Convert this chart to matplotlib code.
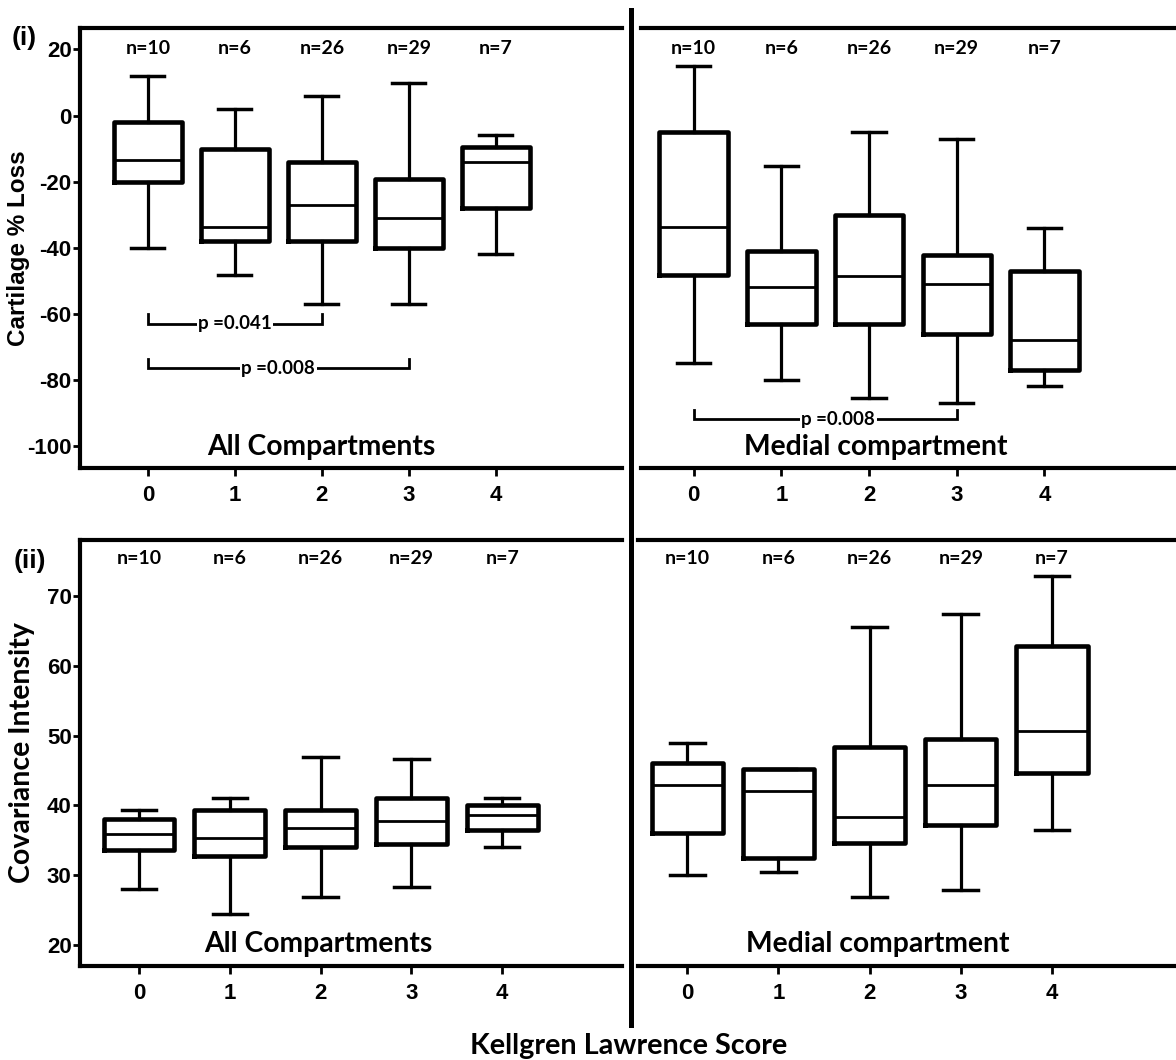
import matplotlib
matplotlib.use("Agg")
import matplotlib.pyplot as plt
from matplotlib.lines import Line2D

# Данные
kl_scores = [0, 1, 2, 3, 4]
n_labels = ["n=10", "n=6", "n=26", "n=29", "n=7"]

# Cartilage % loss, all compartments
loss_all_lo = [-40, -48.2, -57, -57, -41.9]
loss_all_q1 = [-20, -38.1, -38.1, -40.1, -28.1]
loss_all_med = [-13.6, -33.6, -27.1, -31.1, -14.2]
loss_all_q3 = [-2, -10, -14.1, -19.1, -9.5]
loss_all_hi = [12, 2, 5.9, 9.9, -6]

# Cartilage % loss, medial compartment
loss_med_lo = [-75, -80, -85.6, -87.1, -82]
loss_med_q1 = [-48.2, -63.1, -63.1, -66.1, -77]
loss_med_med = [-33.6, -52, -48.6, -51.1, -68.1]
loss_med_q3 = [-5, -41.1, -30.1, -42.3, -47.1]
loss_med_hi = [15, -15.2, -5.1, -7.1, -34.1]

# Covariance intensity, all compartments
cov_all_lo = [28, 24.4, 26.9, 28.3, 34.1]
cov_all_q1 = [33.6, 32.7, 34, 34.5, 36.5]
cov_all_med = [35.9, 35.3, 36.8, 37.7, 38.6]
cov_all_q3 = [38.1, 39.3, 39.4, 41, 40]
cov_all_hi = [39.3, 41, 46.9, 46.7, 41]

# Covariance intensity, medial compartment
cov_med_lo = [30.1, 30.4, 26.9, 27.9, 36.5]
cov_med_q1 = [36, 32.5, 34.6, 37.2, 44.7]
cov_med_med = [42.9, 42.1, 38.3, 42.9, 50.6]
cov_med_q3 = [46.1, 45.2, 48.3, 49.5, 62.8]
cov_med_hi = [49, 45.2, 65.6, 67.4, 72.9]

# p-value brackets: (from, to, level, text x, text)
brackets_all = [(0, 2, -63, 1.0, "p =0.041"), (0, 3, -76.5, 1.5, "p =0.008")]
brackets_med = [(0, 3, -92, 1.65, "p =0.008")]

CAL = "Lato"
ARI = "Liberation Sans"
W, H = 1176, 1060


def rect(x0, x1, ytop, ybot):
    return [x0 / W, 1 - ybot / H, (x1 - x0) / W, (ybot - ytop) / H]


def make_stats(lo, q1, med, q3, hi):
    return [dict(whislo=a, q1=b, med=c, q3=d, whishi=e, fliers=[])
            for a, b, c, d, e in zip(lo, q1, med, q3, hi)]


def draw_panel(ax, stats, xlim, ylim, yticks, title, n_y, title_x, title_y,
               show_left=True):
    ax.bxp(stats, positions=kl_scores, widths=0.78, capwidths=0.38,
           showfliers=False, manage_ticks=False,
           boxprops=dict(color="black", linewidth=3.3),
           whiskerprops=dict(color="black", linewidth=2.3),
           capprops=dict(color="black", linewidth=2.5),
           medianprops=dict(color="black", linewidth=2.0))
    ax.set_xlim(*xlim)
    ax.set_ylim(*ylim)
    ax.set_xticks(kl_scores)
    ax.set_xticklabels([str(k) for k in kl_scores], fontfamily=ARI,
                       fontweight="bold", fontsize=16)
    for s in ["top", "bottom", "left"]:
        ax.spines[s].set_linewidth(3.0)
    ax.spines["right"].set_visible(False)
    ax.tick_params(axis="x", length=6, width=2, pad=6)
    if show_left:
        ax.set_yticks(yticks)
        ax.set_yticklabels([str(t) for t in yticks], fontfamily=ARI,
                           fontweight="bold", fontsize=16)
        ax.tick_params(axis="y", length=5, width=2, pad=1)
    else:
        ax.spines["left"].set_visible(False)
        ax.set_yticks([])
    for x, lab in zip(kl_scores, n_labels):
        ax.text(x, n_y, lab, ha="center", va="center", fontfamily=CAL,
                fontweight="bold", fontsize=14)
    ax.text(title_x, title_y, title, ha="center", va="center",
            fontfamily=CAL, fontweight="bold", fontsize=20.3)


def draw_brackets(ax, brackets, tick_h):
    for x0, x1, y, tx, txt in brackets:
        ax.plot([x0, x0, x1, x1], [y + tick_h, y, y, y + tick_h],
                color="black", linewidth=2.0, solid_joinstyle="miter")
        ax.text(tx, y, txt, ha="center", va="center", fontfamily=CAL,
                fontweight="bold", fontsize=13.5,
                bbox=dict(facecolor="white", edgecolor="none", pad=1.0))


fig = plt.figure(figsize=(W / 100, H / 100), dpi=100)

ax_tl = fig.add_axes(rect(80, 622, 28, 468))
ax_tr = fig.add_axes(rect(641, 1176, 28, 468))
ax_bl = fig.add_axes(rect(80, 622, 540, 966))
ax_br = fig.add_axes(rect(638, 1176, 540, 966))

top_ylim = (-106.7, 26.5)
bot_ylim = (17, 78)

draw_panel(ax_tl, make_stats(loss_all_lo, loss_all_q1, loss_all_med, loss_all_q3, loss_all_hi),
           (-0.78, 5.45), top_ylim, [20, 0, -20, -40, -60, -80, -100],
           "All Compartments", 20.3, 1.99, -100.3)
draw_panel(ax_tr, make_stats(loss_med_lo, loss_med_q1, loss_med_med, loss_med_q3, loss_med_hi),
           (-0.6, 5.5), top_ylim, [], "Medial compartment", 20.3, 2.08, -100.3,
           show_left=False)
draw_panel(ax_bl, make_stats(cov_all_lo, cov_all_q1, cov_all_med, cov_all_q3, cov_all_hi),
           (-0.65, 5.32), bot_ylim, [20, 30, 40, 50, 60, 70],
           "All Compartments", 75.3, 1.98, 20.2)
draw_panel(ax_br, make_stats(cov_med_lo, cov_med_q1, cov_med_med, cov_med_q3, cov_med_hi),
           (-0.54, 5.36), bot_ylim, [], "Medial compartment", 75.3, 2.09, 20.2,
           show_left=False)

draw_brackets(ax_tl, brackets_all, 2.8)
draw_brackets(ax_tr, brackets_med, 2.8)

ax_tl.set_ylabel("Cartilage % Loss", fontfamily=ARI, fontweight="bold",
                 fontsize=17.5)
ax_tl.yaxis.set_label_coords(-0.093, 0.5)
ax_bl.set_ylabel("Covariance Intensity", fontfamily=CAL, fontweight="bold",
                 fontsize=20.5)
ax_bl.yaxis.set_label_coords(-0.083, 0.5)

fig.text(24 / W, 1 - 38 / H, "(i)", ha="center", va="center", fontfamily=ARI,
         fontweight="bold", fontsize=19)
fig.text(30 / W, 1 - 561 / H, "(ii)", ha="center", va="center", fontfamily=ARI,
         fontweight="bold", fontsize=19)
fig.text(629 / W, 1 - 1046 / H, "Kellgren Lawrence Score", ha="center",
         va="center", fontfamily=CAL, fontweight="bold", fontsize=20.7)

# thick divider between left and right columns
fig.add_artist(Line2D([631 / W, 631 / W], [1 - 10 / H, 1 - 511 / H],
                      transform=fig.transFigure, color="black", linewidth=3.6))
fig.add_artist(Line2D([631 / W, 631 / W], [1 - 516 / H, 1 - 1025 / H],
                      transform=fig.transFigure, color="black", linewidth=3.6))

fig.savefig("out.png", dpi=100)
